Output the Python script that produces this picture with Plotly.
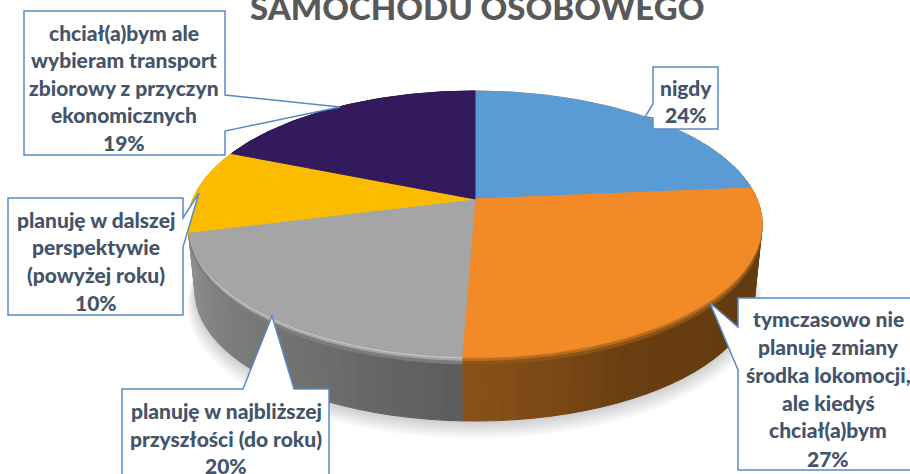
import math
import plotly.graph_objects as go

# ---------- data ----------
categories = [
    "nigdy",
    "tymczasowo nie\nplanuję zmiany\nśrodka lokomocji,\nale kiedyś\nchciał(a)bym",
    "planuję w najbliższej\nprzyszłości (do roku)",
    "planuję w dalszej\nperspektywie\n(powyżej roku)",
    "chciał(a)bym ale\nwybieram transport\nzbiorowy z przyczyn\nekonomicznych",
]
values = [23.6, 27.0, 20.4, 10.2, 18.8]
title_text = "SAMOCHODU OSOBOWEGO"

# ---------- styles ----------
colors = ["#5b9bd5", "#f28a27", "#a5a5a5", "#fbbc00", "#321a5c"]
side_stops = [
    [(0, "#3c668c"), (1, "#3c668c")],
    [(0, "#6c4212"), (0.35, "#623a10"), (0.7, "#6a3e10"), (1, "#8a5219")],
    [(0, "#5c5c5c"), (0.5, "#757575"), (1, "#8e8e8e")],
    [(0, "#8e8e8e"), (1, "#8e8e8e")],
    [(0, "#8e8e8e"), (1, "#8e8e8e")],
]
bevel_bands = [
    [(0.0, 0.03, "#f7a04a"), (0.03, 0.07, "#d87a20"), (0.07, 0.11, "#9a5c18")],
    [(0.0, 0.03, "#e08024"), (0.03, 0.07, "#b86c20"), (0.07, 0.11, "#8c5416")],
    [(0.0, 0.035, "#c8c8c8"), (0.035, 0.07, "#a6a6a6"), (0.07, 0.11, "#7c7c7c")],
    [(0.0, 0.04, "#e0a800"), (0.04, 0.11, "#b88c00")],
    [(0.0, 0.11, "#21123c")],
]
BOX_LINE = "#5a8ac6"
TEXT = "#44546a"
FONT = "Lato"

# projection constants of the tilted disc
CX, Y_TOP, A, K, P = 475, 199, 282, 128.3, 0.188
Y_BOT, SHR = 267, 0.975


def rim(phi, bottom=0.0, grow=1.0):
    u, v = math.sin(phi), math.cos(phi)
    d = 1 + P * v
    s = 1 - (1 - SHR) * bottom
    y0 = Y_TOP + (Y_BOT - Y_TOP) * bottom
    return CX + grow * s * A * u / d, y0 - grow * s * K * v / d


def mix(stops, t):
    def rgb(h):
        return [int(h[i:i + 2], 16) for i in (1, 3, 5)]
    for (t0, c0), (t1, c1) in zip(stops, stops[1:]):
        if t <= t1:
            f = (t - t0) / (t1 - t0)
            a, b = rgb(c0), rgb(c1)
            return "rgb(%d,%d,%d)" % tuple(round(a[i] + (b[i] - a[i]) * f) for i in range(3))
    return stops[-1][1]


def poly(pts, fill, line=None):
    xs = [p[0] for p in pts] + [pts[0][0]]
    ys = [p[1] for p in pts] + [pts[0][1]]
    return go.Scatter(
        x=xs, y=ys, mode="lines", fill="toself", fillcolor=fill,
        line=dict(color=line or "rgba(0,0,0,0)", width=1 if line else 0),
        hoverinfo="skip", showlegend=False,
    )


traces = []
total = sum(values)
edges = [0.0]
for val in values:
    edges.append(edges[-1] + val / total * 2 * math.pi)

# soft shadow under the disc
STEPS = 180
for i in range(8):
    g = 1.0 + 0.004 * i
    dy = 2 + 1.6 * i
    pts = []
    for j in range(STEPS):
        x, y = rim(2 * math.pi * j / STEPS, 1.0, g)
        pts.append((x, y + dy))
    traces.append(poly(pts, "rgba(0,0,0,0.022)"))

# side wall, strip by strip
for idx in range(len(values)):
    a0, a1 = edges[idx], edges[idx + 1]
    n = max(2, int((a1 - a0) / math.radians(3)))
    for j in range(n):
        p0 = a0 + (a1 - a0) * j / n
        p1 = a0 + (a1 - a0) * (j + 1) / n
        if math.cos((p0 + p1) / 2) > 0.55:
            continue
        c = mix(side_stops[idx], (j + 0.5) / n)
        traces.append(poly([rim(p0), rim(p1), rim(p1, 1.0), rim(p0, 1.0)], c, c))

# bevel along the rim
for idx in range(len(values)):
    a0, a1 = edges[idx], edges[idx + 1]
    n = 60
    angles = [a0 + (a1 - a0) * j / n for j in range(n + 1)]
    for t0, t1, c in bevel_bands[idx]:
        pts = [rim(p, t0) for p in angles] + [rim(p, t1) for p in reversed(angles)]
        traces.append(poly(pts, c, c))

# top face
for idx in range(len(values)):
    a0, a1 = edges[idx], edges[idx + 1]
    n = 80
    pts = [(CX, Y_TOP)] + [rim(a0 + (a1 - a0) * j / n) for j in range(n + 1)]
    traces.append(poly(pts, colors[idx], colors[idx]))

fig = go.Figure(traces)

# call-out boxes
callouts = [
    [(653, 67), (718, 67), (718, 129), (653, 129), (653, 118), (645, 117), (653, 104)],
    [(738, 298), (914, 298), (914, 470), (738, 470), (738, 370), (710, 303), (738, 327)],
    [(122, 389), (243, 389), (272, 316), (294, 389), (329, 389), (329, 482), (122, 482)],
    [(8, 198), (183, 198), (183, 218), (199, 193), (183, 247), (183, 315), (8, 315)],
    [(24, 11), (225, 11), (225, 95), (340, 107), (225, 131), (225, 155), (24, 155)],
]
shapes = []
for pts in callouts:
    path = "M" + " L".join("%g,%g" % p for p in pts) + " Z"
    shapes.append(dict(type="path", path=path, xref="x", yref="y", layer="above",
                       fillcolor="white", line=dict(color=BOX_LINE, width=1.5)))

# label text: centre x and y of each line
label_x = [686, 828, 226, 96, 124]
label_y = [
    [87, 114],
    [318, 346, 374, 402, 429, 458],
    [410, 438, 465],
    [219, 246, 274, 302],
    [32, 59, 87, 114, 142],
]
annotations = []
for cat, val, lx, ys in zip(categories, values, label_x, label_y):
    lines = cat.split("\n") + ["%d%%" % round(val / total * 100)]
    for line, ly in zip(lines, ys):
        annotations.append(dict(
            x=lx, y=ly, xref="x", yref="y", text=line, showarrow=False,
            xanchor="center", yanchor="middle",
            font=dict(family=FONT, size=21, color=TEXT, weight=900),
        ))
annotations.append(dict(
    x=477, y=20, xref="x", yref="y", text=title_text, showarrow=False,
    xanchor="center", yanchor="bottom", yshift=-9,
    font=dict(family=FONT, size=33, color="#595959", weight=900),
))

fig.update_layout(
    width=910, height=474, autosize=False,
    margin=dict(l=0, r=0, t=0, b=0),
    paper_bgcolor="white", plot_bgcolor="white",
    xaxis=dict(range=[0, 910], visible=False, fixedrange=True),
    yaxis=dict(range=[474, 0], visible=False, fixedrange=True),
    shapes=shapes, annotations=annotations, showlegend=False,
)
fig.write_html("out.html", config={"displayModeBar": False},
               post_script="document.body.style.margin='0';document.documentElement.style.overflow='hidden';")
